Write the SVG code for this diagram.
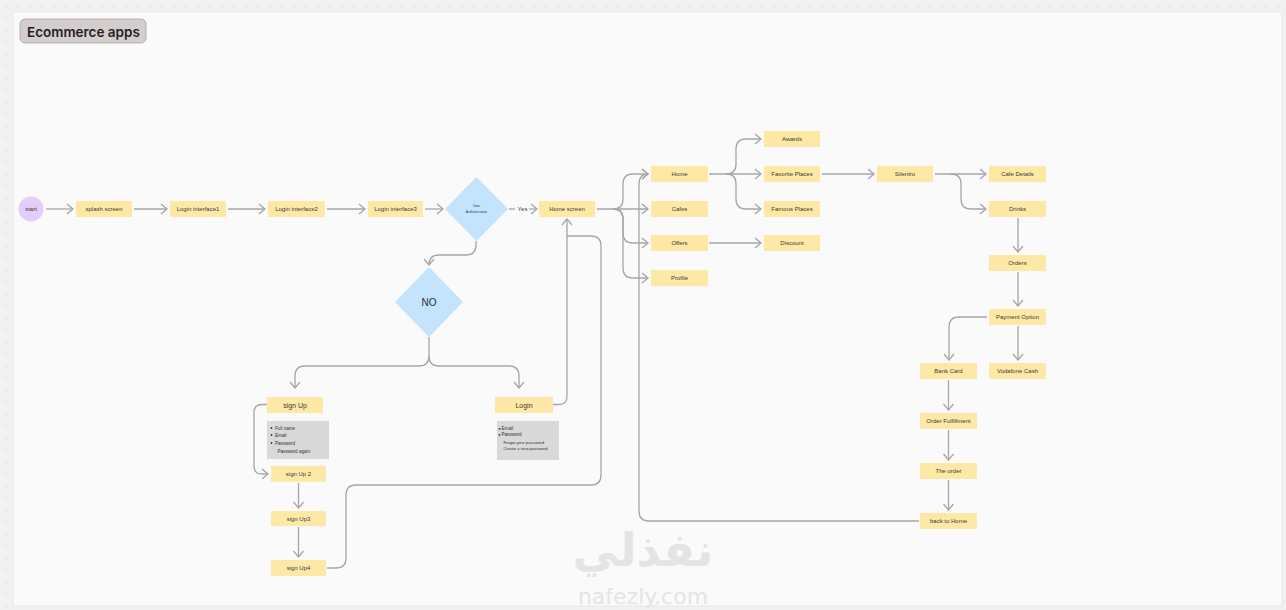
<svg xmlns="http://www.w3.org/2000/svg" width="1286" height="610" viewBox="0 0 1286 610">
<defs>
<pattern id="dots" width="12" height="12" patternUnits="userSpaceOnUse">
<circle cx="6" cy="6" r="0.6" fill="#b9b9b9"/>
</pattern>
<marker id="arr" markerWidth="9" markerHeight="12" refX="7" refY="6" orient="auto" markerUnits="userSpaceOnUse">
<path d="M1,1 L7,6 L1,11" fill="none" stroke="#a6a6a6" stroke-width="1.3"/>
</marker>
</defs>
<style>
.bg{fill:#f1f1f1}
.canvas{fill:#fafafa;stroke:#e9e9e9;stroke-width:1}
.box{fill:#fde8a6}
.lbl{font-family:"Liberation Sans",Arial,sans-serif;font-size:6px;fill:#3a3a3a;text-anchor:middle;dominant-baseline:central}
.note{fill:#d9d9d9}
.nt{font-family:"Liberation Sans",Arial,sans-serif;font-size:4.6px;fill:#333}
.dia{fill:#c4e3fc}
.con path{fill:none;stroke:#a6a6a6;stroke-width:1.3}
.arrow{marker-end:url(#arr)}
</style>
<rect class="bg" x="0" y="0" width="1286" height="610"/>
<rect x="0" y="0" width="1286" height="610" fill="url(#dots)"/>
<rect class="canvas" x="13" y="12" width="1269" height="594"/>

<g id="title">
<rect x="20" y="19" width="126" height="24" rx="5" fill="#d5cdcd" stroke="#aaa2a2" stroke-width="0.8"/>
<text x="27" y="36.5" font-family="Inter,'Liberation Sans',sans-serif" font-size="13.5" font-weight="600" fill="#222">Ecommerce apps</text>
</g>

<g id="watermark" fill="#e4e4e4" text-anchor="middle">
<text x="643" y="566" font-family="'DejaVu Sans',sans-serif" font-size="46" font-weight="bold">نفذلي</text>
<text x="643" y="604" font-family="'DejaVu Sans',sans-serif" font-size="22">nafezly.com</text>
</g>

<g id="connectors" class="con">
<path class="arrow" d="M46,209 H73"/>
<path class="arrow" d="M134,209 H167"/>
<path class="arrow" d="M228,209 H265"/>
<path class="arrow" d="M327,209 H365"/>
<path class="arrow" d="M425,209 H443"/>
<path d="M509,209 H515"/>
<path class="arrow" d="M529,209 H537"/>
<path class="arrow" d="M597,209 H648"/>
<path class="arrow" d="M613,209 Q623,209 623,199 V184 Q623,174 633,174 H648"/>
<path class="arrow" d="M613,209 Q623,209 623,219 V233 Q623,243 633,243 H648"/>
<path class="arrow" d="M613,209 Q623,209 623,219 V268 Q623,278 633,278 H648"/>
<path class="arrow" d="M709,174 H761"/>
<path class="arrow" d="M726,174 Q736,174 736,164 V149 Q736,139 746,139 H761"/>
<path class="arrow" d="M726,174 Q736,174 736,184 V199 Q736,209 746,209 H761"/>
<path class="arrow" d="M709,243 H761"/>
<path class="arrow" d="M822,174 H874"/>
<path class="arrow" d="M935,174 H986"/>
<path class="arrow" d="M951,174 Q961,174 961,184 V199 Q961,209 971,209 H986"/>
<path class="arrow" d="M1018,218 V252"/>
<path class="arrow" d="M1018,272 V306"/>
<path class="arrow" d="M1018,326 V360"/>
<path class="arrow" d="M987,317 H959 Q949,317 949,327 V360"/>
<path class="arrow" d="M948.5,380 V410"/>
<path class="arrow" d="M948.5,430 V460"/>
<path class="arrow" d="M948.5,480 V510"/>
<path class="arrow" d="M919,521 H649 Q639,521 639,511 V184 Q639,174 648,174"/>
<path class="arrow" d="M476,241 V245 Q476,255 466,255 H439 Q429,255 429,265"/>
<path class="arrow" d="M429,337 V356 Q429,366 419,366 H305 Q295,366 295,376 V388"/>
<path class="arrow" d="M429,356 Q429,366 439,366 H509 Q519,366 519,376 V388"/>
<path class="arrow" d="M267,404.5 H262 Q254,404.5 254,412.5 V466 Q254,474 262,474 H268"/>
<path class="arrow" d="M298.5,483 V508"/>
<path class="arrow" d="M298.5,527 V557"/>
<path class="arrow" d="M553,404.5 H559 Q567,404.5 567,396.5 V219"/>
<path d="M327,568 H336 Q346,568 346,558 V495 Q346,485 356,485 H591 Q601,485 601,475 V246 Q601,236 591,236 H567"/>
</g>

<g id="start">
<circle cx="31" cy="209" r="12.5" fill="#e4cdf8"/>
<text class="lbl" x="31" y="209">start</text>
</g>
<g id="splash"><rect class="box" x="76" y="201" width="56" height="16"/><text class="lbl" x="104" y="209">splash screen</text></g>
<g id="login1"><rect class="box" x="170" y="201" width="56" height="16"/><text class="lbl" x="198" y="209">Login interface1</text></g>
<g id="login2"><rect class="box" x="268" y="201" width="57" height="16"/><text class="lbl" x="296.5" y="209">Login interface2</text></g>
<g id="login3"><rect class="box" x="368" y="201" width="55" height="16"/><text class="lbl" x="395.5" y="209">Login interface3</text></g>
<g id="auth">
<polygon class="dia" points="476.5,177 508,209 476.5,241 445,209"/>
<text class="lbl" x="476.5" y="206" style="font-size:3.4px">User</text>
<text class="lbl" x="476.5" y="212" style="font-size:3.4px">Authentication</text>
</g>
<g id="yes"><text class="lbl" x="522.5" y="209">Yes</text></g>
<g id="homescreen"><rect class="box" x="539" y="201" width="56" height="16"/><text class="lbl" x="567" y="209">Home screen</text></g>
<g id="home"><rect class="box" x="651" y="166" width="57" height="16"/><text class="lbl" x="679.5" y="174">Home</text></g>
<g id="cafes"><rect class="box" x="651" y="201" width="57" height="16"/><text class="lbl" x="679.5" y="209">Cafes</text></g>
<g id="offers"><rect class="box" x="651" y="235" width="57" height="16"/><text class="lbl" x="679.5" y="243">Offers</text></g>
<g id="profile"><rect class="box" x="651" y="270" width="57" height="16"/><text class="lbl" x="679.5" y="278">Profile</text></g>
<g id="awards"><rect class="box" x="764" y="131" width="56" height="16"/><text class="lbl" x="792" y="139">Awards</text></g>
<g id="favorite"><rect class="box" x="764" y="166" width="56" height="16"/><text class="lbl" x="792" y="174">Favorite Places</text></g>
<g id="famous"><rect class="box" x="764" y="201" width="56" height="16"/><text class="lbl" x="792" y="209">Famous Places</text></g>
<g id="discount"><rect class="box" x="764" y="235" width="56" height="16"/><text class="lbl" x="792" y="243">Discount</text></g>
<g id="silentro"><rect class="box" x="877" y="166" width="56" height="16"/><text class="lbl" x="905" y="174">Silentro</text></g>
<g id="cafedetails"><rect class="box" x="989" y="166" width="57" height="16"/><text class="lbl" x="1017.5" y="174">Cafe Details</text></g>
<g id="drinks"><rect class="box" x="989" y="201" width="57" height="16"/><text class="lbl" x="1017.5" y="209">Drinks</text></g>
<g id="orders"><rect class="box" x="989" y="255" width="57" height="16"/><text class="lbl" x="1017.5" y="263">Orders</text></g>
<g id="payment"><rect class="box" x="989" y="309" width="57" height="16"/><text class="lbl" x="1017.5" y="317">Payment Option</text></g>
<g id="vodafone"><rect class="box" x="989" y="363" width="57" height="16"/><text class="lbl" x="1017.5" y="371">Vodafone Cash</text></g>
<g id="bankcard"><rect class="box" x="920" y="363" width="57" height="16"/><text class="lbl" x="948.5" y="371">Bank Card</text></g>
<g id="fulfillment"><rect class="box" x="920" y="413" width="57" height="16"/><text class="lbl" x="948.5" y="421">Order Fulfillment</text></g>
<g id="theorder"><rect class="box" x="920" y="463" width="57" height="16"/><text class="lbl" x="948.5" y="471">The order</text></g>
<g id="backhome"><rect class="box" x="920" y="513" width="57" height="16"/><text class="lbl" x="948.5" y="521">back to Home</text></g>
<g id="no">
<polygon class="dia" points="429,267 463,302 429,337 395,302"/>
<text class="lbl" x="429" y="302.5" style="font-size:10px;fill:#22303c">NO</text>
</g>
<g id="signup"><rect class="box" x="267" y="397" width="56" height="16"/><text class="lbl" x="295" y="405" style="font-size:7px">sign Up</text></g>
<g id="signupnote">
<rect class="note" x="267" y="421" width="62" height="38"/>
<circle cx="271.5" cy="428" r="0.9" fill="#333"/><text class="nt" x="275" y="429.6">Full name</text>
<circle cx="271.5" cy="435" r="0.9" fill="#333"/><text class="nt" x="275" y="436.6">Email</text>
<circle cx="271.5" cy="443" r="0.9" fill="#333"/><text class="nt" x="275" y="444.6">Password</text>
<text class="nt" x="277.5" y="452.6">Password again</text>
</g>
<g id="login"><rect class="box" x="495" y="397" width="58" height="16"/><text class="lbl" x="524" y="405" style="font-size:7px">Login</text></g>
<g id="loginnote">
<rect class="note" x="497" y="421" width="62" height="39"/>
<circle cx="499.5" cy="428.8" r="0.9" fill="#333"/><text class="nt" x="501.5" y="430.4">Email</text>
<circle cx="499.5" cy="434.8" r="0.9" fill="#333"/><text class="nt" x="501.5" y="436.4">Password</text>
<text class="nt" x="503.5" y="444.4" style="font-size:4.2px">Forgot your password</text>
<text class="nt" x="503.5" y="450.4" style="font-size:4.2px">Create a new password</text>
</g>
<g id="signup2"><rect class="box" x="271" y="466" width="55" height="16"/><text class="lbl" x="298.5" y="474">sign Up 2</text></g>
<g id="signup3"><rect class="box" x="271" y="511" width="55" height="15"/><text class="lbl" x="298.5" y="518.5">sign Up3</text></g>
<g id="signup4"><rect class="box" x="271" y="560" width="55" height="16"/><text class="lbl" x="298.5" y="568">sign Up4</text></g>
</svg>
